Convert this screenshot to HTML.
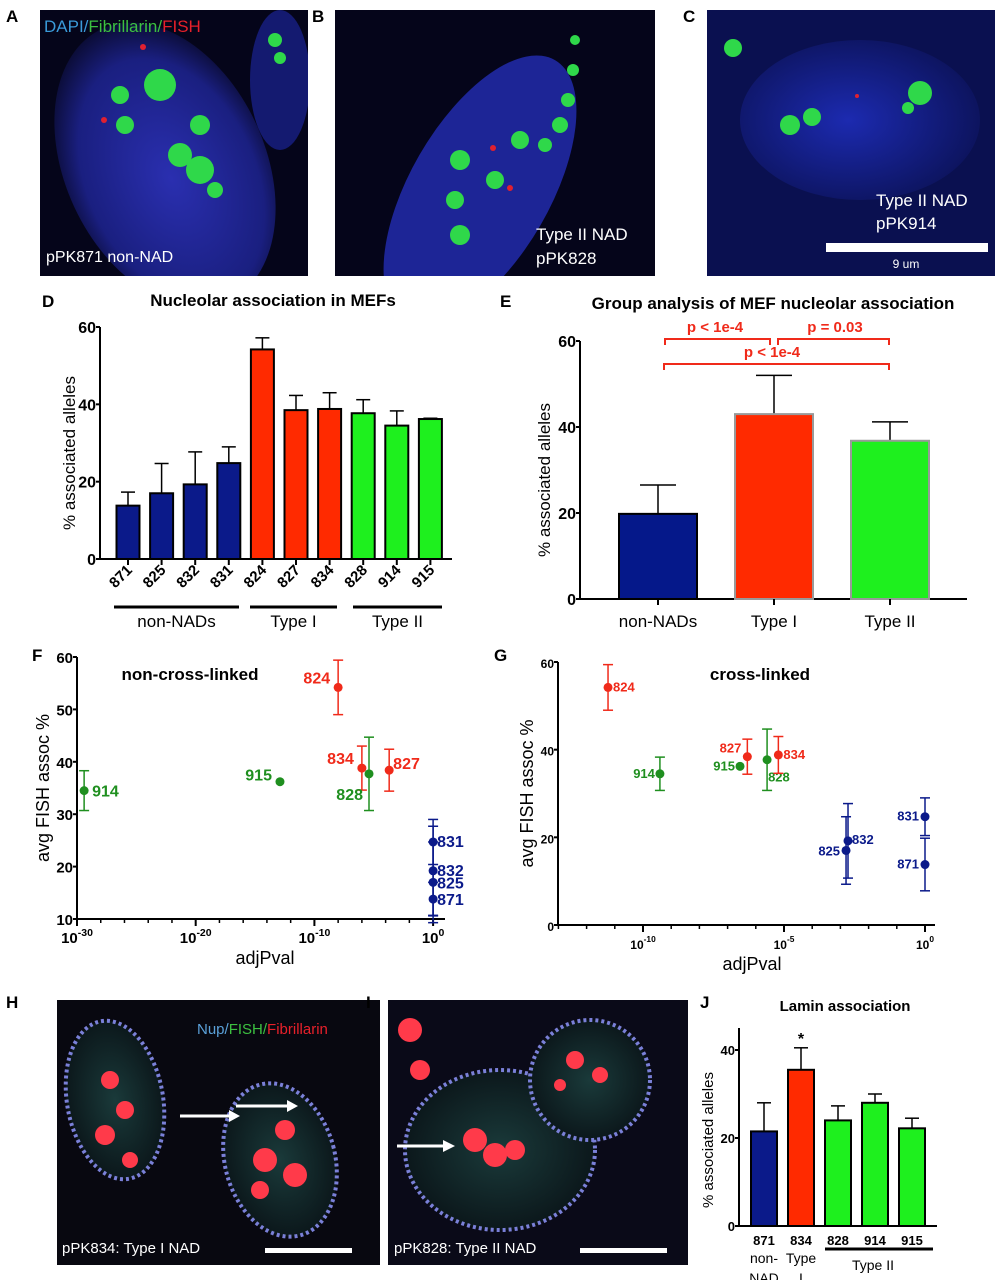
<!DOCTYPE html>
<html><head><meta charset="utf-8">
<style>
html,body{margin:0;padding:0;background:#fff;}
svg{display:block;font-family:"Liberation Sans",Arial,sans-serif;}
.b{font-weight:bold;}
</style></head>
<body>
<svg id="fig" width="995" height="1280" viewBox="0 0 995 1280" xmlns="http://www.w3.org/2000/svg">
<defs>
<radialGradient id="cellA" cx="50%" cy="55%" r="60%"><stop offset="0" stop-color="#2a2fb0"/><stop offset="0.7" stop-color="#1a1f80"/><stop offset="1" stop-color="#05051a"/></radialGradient>
<radialGradient id="cellC" cx="45%" cy="50%" r="65%"><stop offset="0" stop-color="#1c2ab0"/><stop offset="1" stop-color="#0a1050"/></radialGradient>
<radialGradient id="cellH" cx="50%" cy="50%" r="55%"><stop offset="0" stop-color="#1a3a3a"/><stop offset="1" stop-color="#0a1418"/></radialGradient>
<clipPath id="clipA"><rect x="40" y="10" width="268" height="266"/></clipPath>
<clipPath id="clipB"><rect x="335" y="10" width="320" height="266"/></clipPath>
<clipPath id="clipC"><rect x="707" y="10" width="288" height="266"/></clipPath>
<clipPath id="clipH"><rect x="57" y="1000" width="323" height="265"/></clipPath>
<clipPath id="clipI"><rect x="388" y="1000" width="300" height="265"/></clipPath>
</defs>

<!-- Panel A -->
<g clip-path="url(#clipA)">
<rect x="40" y="10" width="268" height="266" fill="#05051a"/>
<ellipse cx="165" cy="165" rx="100" ry="150" transform="rotate(-25 165 165)" fill="url(#cellA)"/>
<ellipse cx="280" cy="80" rx="30" ry="70" fill="#141a70"/>
<g fill="#2fd84a">
<circle cx="120" cy="95" r="9"/><circle cx="160" cy="85" r="16"/><circle cx="125" cy="125" r="9"/><circle cx="200" cy="125" r="10"/>
<circle cx="180" cy="155" r="12"/><circle cx="200" cy="170" r="14"/><circle cx="215" cy="190" r="8"/><circle cx="275" cy="40" r="7"/><circle cx="280" cy="58" r="6"/>
</g>
<circle cx="143" cy="47" r="3" fill="#e02030"/><circle cx="104" cy="120" r="3" fill="#e02030"/>
<text x="44" y="32" font-size="17"><tspan fill="#3a9ad9">DAPI/</tspan><tspan fill="#3cc040">Fibrillarin/</tspan><tspan fill="#e8202a">FISH</tspan></text>
<text x="46" y="262" font-size="16" fill="#fff">pPK871 non-NAD</text>
</g>
<text x="6" y="22" font-size="17" class="b">A</text>

<!-- Panel B -->
<g clip-path="url(#clipB)">
<rect x="335" y="10" width="320" height="266" fill="#05051a"/>
<ellipse cx="480" cy="190" rx="70" ry="150" transform="rotate(30 480 190)" fill="#1d2596"/>
<g fill="#2fd84a">
<circle cx="575" cy="40" r="5"/><circle cx="573" cy="70" r="6"/><circle cx="568" cy="100" r="7"/><circle cx="560" cy="125" r="8"/><circle cx="545" cy="145" r="7"/>
<circle cx="520" cy="140" r="9"/><circle cx="460" cy="160" r="10"/><circle cx="495" cy="180" r="9"/><circle cx="455" cy="200" r="9"/><circle cx="460" cy="235" r="10"/>
</g>
<circle cx="493" cy="148" r="3" fill="#e02030"/><circle cx="510" cy="188" r="3" fill="#e02030"/>
<text x="536" y="240" font-size="17" fill="#fff">Type II NAD</text>
<text x="536" y="264" font-size="17" fill="#fff">pPK828</text>
</g>
<text x="312" y="22" font-size="17" class="b">B</text>

<!-- Panel C -->
<g clip-path="url(#clipC)">
<rect x="707" y="10" width="288" height="266" fill="#0a1050"/>
<ellipse cx="860" cy="120" rx="120" ry="80" fill="url(#cellC)"/>
<g fill="#2fd84a">
<circle cx="733" cy="48" r="9"/><circle cx="790" cy="125" r="10"/><circle cx="812" cy="117" r="9"/><circle cx="920" cy="93" r="12"/><circle cx="908" cy="108" r="6"/>
</g>
<circle cx="857" cy="96" r="2" fill="#e02030"/>
<text x="876" y="206" font-size="17" fill="#fff">Type II NAD</text>
<text x="876" y="229" font-size="17" fill="#fff">pPK914</text>
<rect x="826" y="243" width="162" height="9" fill="#fff"/>
<text x="906" y="268" font-size="12" fill="#fff" text-anchor="middle">9 um</text>
</g>
<text x="683" y="22" font-size="17" class="b">C</text>

<!-- Panel H -->
<g clip-path="url(#clipH)">
<rect x="57" y="1000" width="323" height="265" fill="#080810"/>
<ellipse cx="115" cy="1100" rx="48" ry="80" transform="rotate(-10 115 1100)" fill="url(#cellH)" stroke="#7a80d8" stroke-width="4" stroke-dasharray="3 3"/>
<ellipse cx="280" cy="1160" rx="55" ry="78" transform="rotate(-15 280 1160)" fill="url(#cellH)" stroke="#7a80d8" stroke-width="4" stroke-dasharray="3 3"/>
<g fill="#ff3a4a">
<circle cx="110" cy="1080" r="9"/><circle cx="125" cy="1110" r="9"/><circle cx="105" cy="1135" r="10"/><circle cx="130" cy="1160" r="8"/>
<circle cx="285" cy="1130" r="10"/><circle cx="265" cy="1160" r="12"/><circle cx="295" cy="1175" r="12"/><circle cx="260" cy="1190" r="9"/>
</g>
<line x1="180" y1="1116" x2="232" y2="1116" stroke="#fff" stroke-width="3"/><polygon points="240,1116 229,1110 229,1122" fill="#fff"/>
<line x1="236" y1="1106" x2="290" y2="1106" stroke="#fff" stroke-width="3"/><polygon points="298,1106 287,1100 287,1112" fill="#fff"/>
<text x="197" y="1034" font-size="15"><tspan fill="#5aa0d8">Nup/</tspan><tspan fill="#3cc040">FISH/</tspan><tspan fill="#e8202a">Fibrillarin</tspan></text>
<text x="62" y="1253" font-size="15" fill="#fff">pPK834: Type I NAD</text>
<rect x="265" y="1248" width="87" height="5" fill="#fff"/>
</g>
<text x="6" y="1008" font-size="17" class="b">H</text>

<!-- Panel I -->
<g clip-path="url(#clipI)">
<rect x="388" y="1000" width="300" height="265" fill="#0a0a18"/>
<ellipse cx="500" cy="1150" rx="95" ry="80" fill="url(#cellH)" stroke="#7a80d8" stroke-width="4" stroke-dasharray="3 3"/>
<ellipse cx="590" cy="1080" rx="60" ry="60" fill="url(#cellH)" stroke="#7a80d8" stroke-width="4" stroke-dasharray="3 3"/>
<g fill="#ff3a4a">
<circle cx="410" cy="1030" r="12"/><circle cx="420" cy="1070" r="10"/><circle cx="475" cy="1140" r="12"/><circle cx="495" cy="1155" r="12"/><circle cx="515" cy="1150" r="10"/>
<circle cx="575" cy="1060" r="9"/><circle cx="600" cy="1075" r="8"/><circle cx="560" cy="1085" r="6"/>
</g>
<line x1="397" y1="1146" x2="446" y2="1146" stroke="#fff" stroke-width="3"/><polygon points="455,1146 443,1140 443,1152" fill="#fff"/>
<text x="394" y="1253" font-size="15" fill="#fff">pPK828: Type II NAD</text>
<rect x="580" y="1248" width="87" height="5" fill="#fff"/>
</g>
<text x="366" y="1008" font-size="17" class="b">I</text>

<!-- chart labels -->
<text x="42" y="307" font-size="17" class="b">D</text>
<text x="500" y="307" font-size="17" class="b">E</text>
<text x="32" y="661" font-size="17" class="b">F</text>
<text x="494" y="661" font-size="17" class="b">G</text>
<text x="700" y="1008" font-size="17" class="b">J</text>
<g id="charts"></g>
</svg>
<script>
// Panel D data
const dCategories = ['871','825','832','831','824','827','834','828','914','915'];
const dValues = [13.8,17.0,19.3,24.8,54.2,38.5,38.8,37.7,34.5,36.2];
const dErrors = [3.5,7.7,8.4,4.2,3.0,3.8,4.2,3.5,3.8,0.2];
const dGroups = ['non','non','non','non','t1','t1','t1','t2','t2','t2'];
const dTicks = [0,20,40,60];
// Panel E data
const eCategories = ['non-NADs','Type I','Type II'];
const eValues = [19.8,43.0,36.8];
const eErrors = [6.7,9.0,4.4];
// Panel F data (non-cross-linked)
const fLabels = ['914','915','824','834','828','827','831','832','825','871'];
const fLogP = [-29.4,-12.9,-8.0,-6.0,-5.4,-3.7,0,0,0,0];
const fValues = [34.5,36.2,54.2,38.8,37.7,38.4,24.7,19.2,17.0,13.8];
const fErrors = [3.8,0,5.2,4.2,7.0,4.0,4.3,8.5,7.7,3.2];
const fGroups = ['t2','t2','t1','t1','t2','t1','non','non','non','non'];
const fYTicks = [10,20,30,40,50,60];
const fXTicks = [-30,-20,-10,0];
// Panel G data (cross-linked)
const gLabels = ['824','914','915','827','828','834','825','832','831','871'];
const gLogP = [-11.24,-9.4,-6.56,-6.3,-5.6,-5.2,-2.8,-2.73,0,0];
const gValues = [54.2,34.5,36.2,38.4,37.7,38.8,17.0,19.2,24.7,13.8];
const gErrors = [5.2,3.8,0,4.0,7.0,4.2,7.7,8.5,4.3,6.0];
const gGroups = ['t1','t2','t2','t1','t2','t1','non','non','non','non'];
const gYTicks = [0,20,40,60];
const gXTicks = [-10,-5,0];
// Panel J data
const jCategories = ['871','834','828','914','915'];
const jValues = [21.5,35.5,24.0,28.0,22.2];
const jErrors = [6.5,5.0,3.3,2.0,2.3];
const jGroups = ['non','t1','t2','t2','t2'];
const jTicks = [0,20,40];

const NS='http://www.w3.org/2000/svg';
const root=document.getElementById('charts');
const barCol={non:'#0b1a8a',t1:'#ff2a00',t2:'#1ef01e'};
const ptCol={non:'#0b1a8a',t1:'#f02a1a',t2:'#1f8f1f'};
function mk(tag,attrs,parent,txt){const e=document.createElementNS(NS,tag);for(const k in attrs)e.setAttribute(k,attrs[k]);if(txt!==undefined)e.textContent=txt;(parent||root).appendChild(e);return e;}
function grp(name){const g=mk('g',{});return g;}
function ln(g,x1,y1,x2,y2,c,w){return mk('line',{x1,y1,x2,y2,stroke:c||'#000','stroke-width':w||2},g);}

// ---- Panel D ----
(function(){
const g=grp('chart-d');
const x0=100,y0=559,yTop=327,ymax=60,step=33.6,bw=23;
const ys=v=>y0-(v/ymax)*(y0-yTop);
const xs=i=>128+i*step;
const t=mk('text',{x:273,y:306,'font-size':17,'font-weight':'bold','text-anchor':'middle'},g,'Nucleolar association in MEFs');


ln(g,x0,yTop,x0,y0+1);ln(g,x0-1,y0,452,y0);
dTicks.forEach(v=>{ln(g,x0-4,ys(v),x0,ys(v));const l=mk('text',{x:x0-4,y:ys(v)+6,'font-size':16,'font-weight':'bold','text-anchor':'end'},g,v);

});
const yt=mk('text',{x:0,y:0,'font-size':17,'text-anchor':'middle',transform:`translate(75,${(y0+yTop)/2+10}) rotate(-90)`},g,'%  associated alleles');


dCategories.forEach((c,i)=>{
 const x=xs(i),y=ys(dValues[i]),ye=ys(dValues[i]+dErrors[i]);
 ln(g,x,ye,x,y,'#000',1.5);ln(g,x-7,ye,x+7,ye,'#000',1.5);
 const r=mk('rect',{x:x-bw/2,y:y,width:bw,height:y0-y,fill:barCol[dGroups[i]],stroke:'#000','stroke-width':2},g);
 
 
 ln(g,x,y0,x,y0+6);
 const l=mk('text',{x:0,y:0,'font-size':15,'font-weight':'bold','text-anchor':'end',transform:`translate(${x+5},${y0+12}) rotate(-45)`},g,c);
 
 
});
[['non-NADs',114,239],['Type I',250,337],['Type II',353,442]].forEach(a=>{
 ln(g,a[1],607,a[2],607,'#000',3);
 const l=mk('text',{x:(a[1]+a[2])/2,y:627,'font-size':17,'text-anchor':'middle'},g,a[0]);
 
 
});
})();

// ---- Panel E ----
(function(){
const g=grp('chart-e');
const x0=580,y0=599,yTop=341,ymax=60,bw=78;
const ys=v=>y0-(v/ymax)*(y0-yTop);
const xs=i=>658+i*116;
const t=mk('text',{x:773,y:309,'font-size':17,'font-weight':'bold','text-anchor':'middle'},g,'Group analysis of MEF nucleolar association');


ln(g,x0,yTop,x0,y0+1);ln(g,x0-1,y0,967,y0);
[0,20,40,60].forEach(v=>{ln(g,x0-4,ys(v),x0,ys(v));const l=mk('text',{x:x0-4,y:ys(v)+6,'font-size':16,'font-weight':'bold','text-anchor':'end'},g,v);

});
const yt=mk('text',{x:0,y:0,'font-size':17,'text-anchor':'middle',transform:`translate(550,${(y0+yTop)/2+10}) rotate(-90)`},g,'% associated alleles');


const cols=['#05188a','#ff2a00','#1ef01e'],strokes=['#000','#999','#999'];
eCategories.forEach((c,i)=>{
 const x=xs(i),y=ys(eValues[i]),ye=ys(eValues[i]+eErrors[i]);
 ln(g,x,ye,x,y,'#000',1.5);ln(g,x-18,ye,x+18,ye,'#000',1.5);
 const r=mk('rect',{x:x-bw/2,y:y,width:bw,height:y0-y,fill:cols[i],stroke:strokes[i],'stroke-width':2},g);
 
 
 ln(g,x,y0,x,y0+6);
 const l=mk('text',{x:x,y:627,'font-size':17,'text-anchor':'middle'},g,c);
 
 
});
const red='#f02a1a';
[[665,770,339,'p < 1e-4',715,332],[778,889,339,'p = 0.03',835,332],[664,889,364,'p < 1e-4',772,357]].forEach(b=>{
 const p=mk('polyline',{points:`${b[0]},${b[2]+6} ${b[0]},${b[2]} ${b[1]},${b[2]} ${b[1]},${b[2]+6}`,fill:'none',stroke:red,'stroke-width':2},g);
 
 
 const l=mk('text',{x:b[4],y:b[5],'font-size':15,'font-weight':'bold','text-anchor':'middle',fill:red},g,b[3]);
 
 
});
})();

// ---- scatter helper ----
function scatter(name,cfg,labels,logp,vals,errs,groups,yTicks,xTicks){
 const g=grp(name);
 const ys=v=>cfg.y0-(v-cfg.ymin)/(cfg.ymax-cfg.ymin)*(cfg.y0-cfg.yTop);
 const xs=l=>cfg.xA+(l-cfg.lA)*cfg.dec;
 ln(g,cfg.x0,cfg.yTop,cfg.x0,cfg.y0+1);ln(g,cfg.x0-1,cfg.y0,cfg.xEnd,cfg.y0);
 yTicks.forEach(v=>{ln(g,cfg.x0-4,ys(v),cfg.x0,ys(v));const l=mk('text',{x:cfg.x0-4,y:ys(v)+6,'font-size':cfg.tfs,'font-weight':'bold','text-anchor':'end'},g,v);
 
 });
 for(let d=cfg.minFrom;d<=0;d+=cfg.minStep){const x=xs(d);if(x<cfg.x0)continue;ln(g,x,cfg.y0,x,cfg.y0+4,'#000',1.5);}
 xTicks.forEach(v=>{const x=xs(v);ln(g,x,cfg.y0,x,cfg.y0+7);
 const l=mk('text',{x:x,y:cfg.y0+24,'font-size':cfg.tfs,'font-weight':'bold','text-anchor':'middle'},g);
 mk('tspan',{},l,'10');mk('tspan',{dy:-7,'font-size':cfg.tfs*0.7},l,String(v));
 
 });
 const xt=mk('text',{x:cfg.xTitleX,y:cfg.y0+45,'font-size':18,'text-anchor':'middle'},g,'adjPval');
 
 
 const yt=mk('text',{x:0,y:0,'font-size':18,'text-anchor':'middle',transform:`translate(${cfg.yTitleX},${(cfg.y0+cfg.yTop)/2}) rotate(-90)`},g,'avg FISH assoc %');
 
 
 const tt=mk('text',{x:cfg.titleX,y:680,'font-size':17,'font-weight':'bold','text-anchor':'middle'},g,cfg.title);
 
 
 labels.forEach((lab,i)=>{
  const x=xs(logp[i]),y=ys(vals[i]),c=ptCol[groups[i]];
  if(errs[i]>0){const a=ys(vals[i]+errs[i]),b=ys(vals[i]-errs[i]);ln(g,x,a,x,b,c,1.5);ln(g,x-5,a,x+5,a,c,1.5);ln(g,x-5,b,x+5,b,c,1.5);}
  const p=mk('circle',{cx:x,cy:y,r:cfg.r,fill:c},g);
  
  
  const o=cfg.off[lab]||[6,5,'start'];
  const l=mk('text',{x:x+o[0],y:y+o[1],'font-size':cfg.lfs,'font-weight':'bold',fill:c,'text-anchor':o[2]},g,lab);
  
  
 });
}
scatter('chart-f',{x0:77,y0:919,yTop:657,ymin:10,ymax:60,xA:77,lA:-30,dec:11.87,xEnd:445,minFrom:-30,minStep:2,tfs:15,lfs:16,r:4.5,
 xTitleX:265,yTitleX:49,titleX:190,title:'non-cross-linked',
 off:{'914':[8,6,'start'],'915':[-8,-1,'end'],'824':[-8,-4,'end'],'834':[-8,-4,'end'],'828':[-6,26,'end'],'827':[4,-1,'start'],
 '831':[4,5,'start'],'832':[4,5,'start'],'825':[4,6,'start'],'871':[4,6,'start']}},
 fLabels,fLogP,fValues,fErrors,fGroups,fYTicks,fXTicks);
scatter('chart-g',{x0:558,y0:925,yTop:662,ymin:0,ymax:60,xA:643,lA:-10,dec:28.2,xEnd:935,minFrom:-13,minStep:1,tfs:12,lfs:13,r:4.5,
 xTitleX:752,yTitleX:533,titleX:760,title:'cross-linked',
 off:{'824':[5,4,'start'],'914':[-5,4,'end'],'915':[-5,4,'end'],'827':[-6,-4,'end'],'828':[1,22,'start'],'834':[5,4,'start'],
 '825':[-6,5,'end'],'832':[4,3,'start'],'831':[-6,4,'end'],'871':[-6,4,'end']}},
 gLabels,gLogP,gValues,gErrors,gGroups,gYTicks,gXTicks);

// ---- Panel J ----
(function(){
const g=grp('chart-j');
const x0=739,y0=1226,yTop=1028,bw=26;
const ys=v=>y0-(v/40)*(y0-1050);
const xs=i=>764+i*37;
const t=mk('text',{x:845,y:1011,'font-size':15,'font-weight':'bold','text-anchor':'middle'},g,'Lamin association');


ln(g,x0,yTop,x0,y0+1);ln(g,x0-1,y0,937,y0);
jTicks.forEach(v=>{ln(g,x0-4,ys(v),x0,ys(v));const l=mk('text',{x:x0-4,y:ys(v)+5,'font-size':13,'font-weight':'bold','text-anchor':'end'},g,v);

});
const yt=mk('text',{x:0,y:0,'font-size':15,'text-anchor':'middle',transform:`translate(713,1140) rotate(-90)`},g,'% associated alleles');


jCategories.forEach((c,i)=>{
 const x=xs(i),y=ys(jValues[i]),ye=ys(jValues[i]+jErrors[i]);
 ln(g,x,ye,x,y,'#000',1.5);ln(g,x-7,ye,x+7,ye,'#000',1.5);
 const r=mk('rect',{x:x-bw/2,y:y,width:bw,height:y0-y,fill:barCol[jGroups[i]],stroke:'#000','stroke-width':2},g);
 
 
 const l=mk('text',{x:x,y:1245,'font-size':13,'font-weight':'bold','text-anchor':'middle'},g,c);
 
 
});
const s=mk('text',{x:xs(1),y:ys(jValues[1]+jErrors[1])-4,'font-size':16,'font-weight':'bold','text-anchor':'middle'},g,'*');


[['non-',764,1263],['NAD',764,1283],['Type',801,1263],['I',801,1283],['Type II',873,1270]].forEach(a=>{
 const l=mk('text',{x:a[1],y:a[2],'font-size':14,'text-anchor':'middle'},g,a[0]);
 
 
});
ln(g,825,1249,933,1249,'#000',3);
})();
</script>
</body></html>
